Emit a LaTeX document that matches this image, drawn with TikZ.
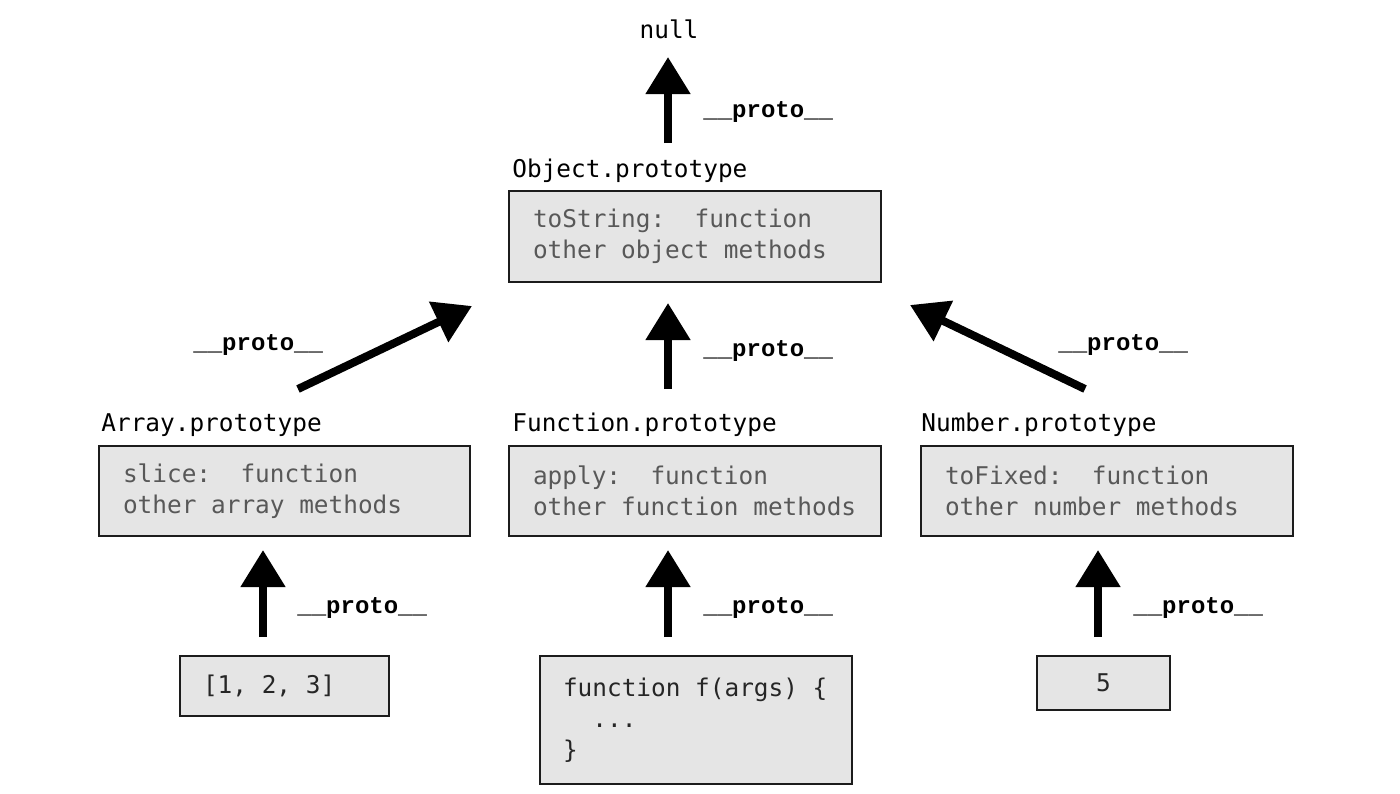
\documentclass[tikz,border=0pt]{standalone}
\usepackage{fontspec}
\setmonofont{DejaVu Sans Mono}
\newfontfamily\protofont{Liberation Mono}
\usepackage{xcolor}
\usepackage{tikz}
\usetikzlibrary{arrows.meta}
\definecolor{boxgray}{RGB}{229,229,229}
\definecolor{methodgray}{RGB}{88,88,88}
\definecolor{edgegray}{RGB}{28,28,28}
% one character wide space for the mono text
\newcommand\gap{\hphantom{x}}

\begin{document}
\begin{tikzpicture}[x=0.5pt, y=-0.5pt,
    every node/.style={font=\ttfamily\fontsize{12.2}{15.4}\selectfont, inner sep=0pt},
    protoname/.style={anchor=base west, text=black},
    protobox/.style={draw=edgegray, line width=1pt, fill=boxgray, text=methodgray,
        align=left, anchor=north west, inner xsep=12pt},
    valuebox/.style={draw=edgegray, line width=1pt, fill=boxgray, text=black!85,
        align=left, anchor=north west, inner xsep=11.5pt},
    protolabel/.style={anchor=base west, font=\protofont\bfseries\fontsize{12}{14}\selectfont},
    protoarrow/.style={line width=4pt, -{Triangle[length=18.5pt, width=21.5pt]}}]
    \useasboundingbox (0,0) rectangle (1400,793);
    % Top: Object.prototype -> null
    \node[anchor=base] (nullname) at (669,38) {null};
    \node[protoname] (objname) at (512,177) {Object.prototype};
    \node[protobox, text width=162pt, minimum height=45.5pt] (objbox) at (508,190)
        {toString:\gap\gap function\\other\gap object\gap methods};
    \coordinate (objtail) at (668,143);
    \coordinate (objtip) at (668,57);
    \draw[protoarrow] (objtail) -- (objtip);
    \node[protolabel] (objlabel) at (703,117) {\_\_proto\_\_};
    % Middle row: prototypes
    \node[protoname] (arrname) at (101,431) {Array.prototype};
    \node[protobox, text width=161.5pt, minimum height=45pt] (arrbox) at (98,445)
        {slice:\gap\gap function\\other\gap array\gap methods};
    \node[protoname] (fnname) at (512,431) {Function.prototype};
    \node[protobox, text width=162pt, minimum height=45pt] (fnbox) at (508,445)
        {apply:\gap\gap function\\other\gap function\gap methods};
    \node[protoname] (numname) at (921,431) {Number.prototype};
    \node[protobox, text width=162pt, minimum height=45pt] (numbox) at (920,445)
        {toFixed:\gap\gap function\\other\gap number\gap methods};
    % Middle row arrows
    \coordinate (arrtail) at (298,389);
    \coordinate (arrtip) at (472,306);
    \coordinate (fntail) at (668,389);
    \coordinate (fntip) at (668,303);
    \coordinate (numtail) at (1085,389);
    \coordinate (numtip) at (910,305);
    \draw[protoarrow] (arrtail) -- (arrtip);
    \draw[protoarrow] (fntail) -- (fntip);
    \draw[protoarrow] (numtail) -- (numtip);
    \node[protolabel] (arrlabel) at (193,350) {\_\_proto\_\_};
    \node[protolabel] (fnlabel) at (703,356) {\_\_proto\_\_};
    \node[protolabel] (numlabel) at (1058,350) {\_\_proto\_\_};
    % Bottom row: values
    \node[valuebox, text width=81.5pt, minimum height=30pt] (arrval) at (179,655)
        {[1,\gap 2,\gap 3]};
    \node[valuebox, text width=133pt, minimum height=64pt] (fnval) at (539,655)
        {function\gap f(args)\gap\{\\\gap\gap...\\\}};
    \node[valuebox, align=center, inner xsep=0pt, text width=66.5pt, minimum height=27pt] (numval) at (1036,655) {5};
    % Bottom row arrows
    \coordinate (arrvaltail) at (263,637);
    \coordinate (arrvaltip) at (263,550);
    \coordinate (fnvaltail) at (668,637);
    \coordinate (fnvaltip) at (668,550);
    \coordinate (numvaltail) at (1098,637);
    \coordinate (numvaltip) at (1098,550);
    \draw[protoarrow] (arrvaltail) -- (arrvaltip);
    \draw[protoarrow] (fnvaltail) -- (fnvaltip);
    \draw[protoarrow] (numvaltail) -- (numvaltip);
    \node[protolabel] (arrvallabel) at (297,613) {\_\_proto\_\_};
    \node[protolabel] (fnvallabel) at (703,613) {\_\_proto\_\_};
    \node[protolabel] (numvallabel) at (1133,613) {\_\_proto\_\_};
\end{tikzpicture}
\end{document}
